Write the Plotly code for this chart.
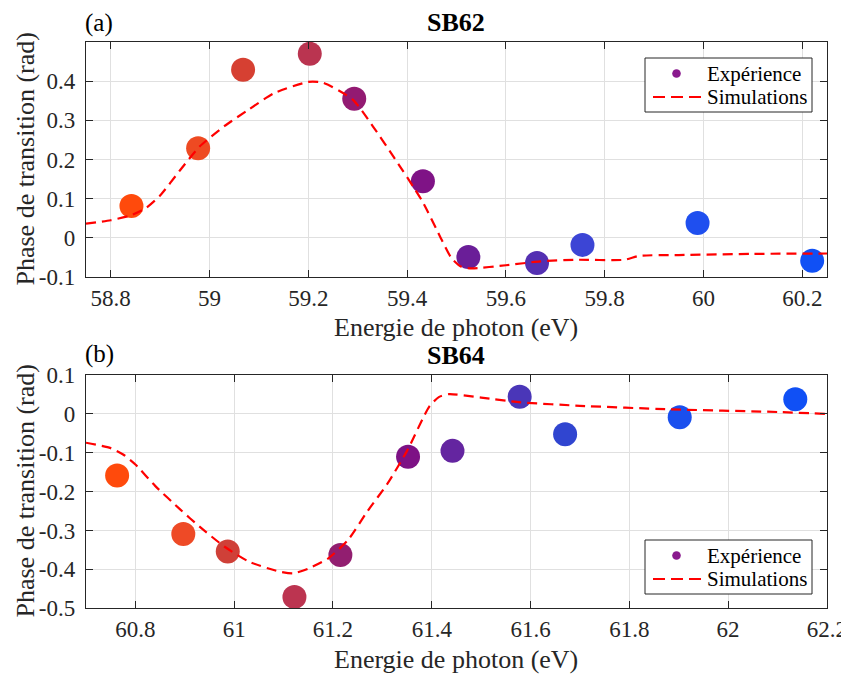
import plotly.graph_objects as go

# ---------------- data ----------------
# (a) SB62
exp_a_x = [58.842, 58.977, 59.068, 59.203, 59.293, 59.432, 59.524, 59.663, 59.755, 59.988, 60.220]
exp_a_y = [0.081, 0.2285, 0.429, 0.470, 0.355, 0.1445, -0.049, -0.064, -0.018, 0.038, -0.0586]
exp_a_c = ["#FF4A0C", "#EE4A22", "#D64032", "#BA3450", "#931A72", "#7F1386",
           "#6A1E98", "#5430B2", "#3C45D5", "#1F4FEF", "#1050F5"]
sim_a_x = [58.75, 58.80, 58.84, 58.87, 58.90, 58.94, 58.98, 59.03, 59.08, 59.13, 59.20,
           59.23, 59.29, 59.33, 59.37, 59.43, 59.47, 59.49, 59.51, 59.53, 59.60, 59.67,
           59.74, 59.84, 59.87, 59.95, 60.10, 60.25]
sim_a_y = [0.036, 0.045, 0.057, 0.075, 0.108, 0.172, 0.233, 0.285, 0.328, 0.369, 0.398,
           0.396, 0.353, 0.286, 0.212, 0.095, -0.005, -0.052, -0.074, -0.078, -0.070, -0.060,
           -0.056, -0.056, -0.046, -0.044, -0.041, -0.040]

# (b) SB64
exp_b_x = [60.763, 60.897, 60.987, 61.122, 61.215, 61.352, 61.442, 61.578, 61.670, 61.902, 62.136]
exp_b_y = [-0.1586, -0.309, -0.354, -0.471, -0.363, -0.110, -0.095, 0.0445, -0.052, -0.0085, 0.038]
exp_b_c = ["#FF4A0C", "#EE4A26", "#CF4038", "#BC3450", "#921E70", "#7D1285",
           "#6425A0", "#4A36B8", "#3045D0", "#1A4FEE", "#1050F5"]
sim_b_x = [60.70, 60.75, 60.776, 60.80, 60.84, 60.89, 60.93, 60.98, 61.03, 61.09, 61.12,
           61.15, 61.19, 61.23, 61.27, 61.31, 61.35, 61.395, 61.415, 61.435, 61.50, 61.58,
           61.70, 61.88, 62.10, 62.20]
sim_b_y = [-0.074, -0.088, -0.105, -0.130, -0.185, -0.245, -0.290, -0.341, -0.380, -0.405, -0.410,
           -0.398, -0.372, -0.325, -0.250, -0.180, -0.095, 0.019, 0.044, 0.051, 0.042, 0.030,
           0.021, 0.012, 0.005, 0.000]

xticks_a = [58.8, 59.0, 59.2, 59.4, 59.6, 59.8, 60.0, 60.2]
xtext_a = ["58.8", "59", "59.2", "59.4", "59.6", "59.8", "60", "60.2"]
yticks_a = [-0.1, 0, 0.1, 0.2, 0.3, 0.4]
ytext_a = ["-0.1", "0", "0.1", "0.2", "0.3", "0.4"]
xticks_b = [60.8, 61.0, 61.2, 61.4, 61.6, 61.8, 62.0, 62.2]
xtext_b = ["60.8", "61", "61.2", "61.4", "61.6", "61.8", "62", "62.2"]
yticks_b = [-0.5, -0.4, -0.3, -0.2, -0.1, 0, 0.1]
ytext_b = ["-0.5", "-0.4", "-0.3", "-0.2", "-0.1", "0", "0.1"]

legend_exp = "Expérience"
legend_sim = "Simulations"
xlabel = "Energie de photon (eV)"
ylabel = "Phase de transition (rad)"

# ---------------- figure ----------------
OFF = 8                      # page body margin
W, H = 849 - OFF, 675 - OFF
FONT = "Liberation Serif"
TXT = "#262626"
SIMC = "#FF0000"
LEGMARK = "#8A1A8E"


def px_x(x):
    return (x - OFF) / W


def px_y(y):
    return 1 - (y - OFF) / H


fig = go.Figure()


def add_panel(xe, ye, ce, xs, ys, xa, ya):
    fig.add_trace(go.Scatter(x=xe, y=ye, mode="markers", xaxis=xa, yaxis=ya,
                             marker=dict(size=24, color=ce, line=dict(width=0)),
                             name=legend_exp, showlegend=False, hoverinfo="x+y"))
    fig.add_trace(go.Scatter(x=xs, y=ys, mode="lines", xaxis=xa, yaxis=ya,
                             line=dict(color=SIMC, width=2.2, dash="10px,6px",
                                       shape="spline", smoothing=0.6),
                             name=legend_sim, showlegend=False))


add_panel(exp_a_x, exp_a_y, exp_a_c, sim_a_x, sim_a_y, "x", "y")
add_panel(exp_b_x, exp_b_y, exp_b_c, sim_b_x, sim_b_y, "x2", "y2")

ax_common = dict(showline=True, linecolor=TXT, linewidth=1.3, mirror="ticks",
                 ticks="inside", ticklen=7, tickwidth=1.2, tickcolor=TXT,
                 showgrid=True, gridcolor="#E0E0E0", gridwidth=1, zeroline=False,
                 automargin=False,
                 tickfont=dict(family=FONT, size=23, color=TXT))

xdom = [px_x(86), px_x(827)]
dom_a = [px_y(277), px_y(42)]
dom_b = [px_y(608.3), px_y(375)]

fig.update_layout(
    template="none",
    width=W, height=H,
    margin=dict(l=0, r=0, t=0, b=0, pad=0, autoexpand=False),
    paper_bgcolor="white", plot_bgcolor="white",
    font=dict(family=FONT, color=TXT),
    showlegend=False,
    xaxis=dict(domain=xdom, range=[58.75, 60.25], tickvals=xticks_a, ticktext=xtext_a,
               anchor="y", ticklabelstandoff=0, **ax_common),
    yaxis=dict(domain=dom_a, range=[-0.1, 0.5], tickvals=yticks_a, ticktext=ytext_a,
               anchor="x", ticklabelstandoff=5, **ax_common),
    xaxis2=dict(domain=xdom, range=[60.7, 62.2002], tickvals=xticks_b, ticktext=xtext_b,
                anchor="y2", ticklabelstandoff=0, **ax_common),
    yaxis2=dict(domain=dom_b, range=[-0.5, 0.1002], tickvals=yticks_b, ticktext=ytext_b,
                anchor="x2", ticklabelstandoff=5, **ax_common),
)


def ann(text, x, y, size=26, bold=False, angle=0, xanchor="center", color="black"):
    fig.add_annotation(text=("<b>%s</b>" % text) if bold else text,
                       x=px_x(x), y=px_y(y), xref="paper", yref="paper",
                       showarrow=False, textangle=angle, xanchor=xanchor, yanchor="middle",
                       font=dict(family=FONT, size=size, color=color))


ann("SB62", 456, 23, bold=True)
ann("SB64", 456, 355, bold=True)
ann("(a)", 83, 23, size=25, xanchor="left")
ann("(b)", 83, 354, size=25, xanchor="left")
ann(xlabel, 456, 327, color=TXT)
ann(xlabel, 456, 659, color=TXT)
ann(ylabel, 25, 159.5, angle=-90, color=TXT)
ann(ylabel, 25, 491.5, angle=-90, color=TXT)


# manual legends (box, symbol, text)
def legend_box(top):
    fig.add_shape(type="rect", xref="paper", yref="paper",
                  x0=px_x(645), x1=px_x(812), y0=px_y(top), y1=px_y(top + 54),
                  line=dict(color="#262626", width=1), fillcolor="white", layer="above")
    cy1, cy2 = top + 15.5, top + 39
    r = 4.3
    fig.add_shape(type="circle", xref="paper", yref="paper",
                  x0=px_x(676.5 - r), x1=px_x(676.5 + r), y0=px_y(cy1 + r), y1=px_y(cy1 - r),
                  line=dict(width=0), fillcolor=LEGMARK, layer="above")
    fig.add_shape(type="line", xref="paper", yref="paper",
                  x0=px_x(653), x1=px_x(702), y0=px_y(cy2), y1=px_y(cy2),
                  line=dict(color=SIMC, width=2.2, dash="12px,6px"), layer="above")
    fig.add_annotation(text=legend_exp, x=px_x(705), y=px_y(cy1), xref="paper", yref="paper",
                       showarrow=False, xanchor="left", yanchor="middle",
                       font=dict(family=FONT, size=21, color="black"))
    fig.add_annotation(text=legend_sim, x=px_x(705), y=px_y(cy2), xref="paper", yref="paper",
                       showarrow=False, xanchor="left", yanchor="middle",
                       font=dict(family=FONT, size=21, color="black"))


legend_box(58)
legend_box(540)

fig.write_html("out.html")
